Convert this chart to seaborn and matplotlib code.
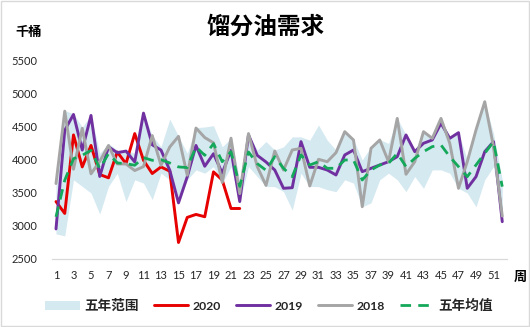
import matplotlib
matplotlib.use('Agg')
import numpy as np
import pandas as pd
import seaborn as sns
import matplotlib.pyplot as plt
from matplotlib.patches import Patch, Rectangle
from matplotlib.lines import Line2D

weeks = list(range(1, 53))
xtick_labels = [str(w) for w in range(1, 52, 2)]

y2020 = [3370, 3190, 4380, 3895, 4220, 3780, 3730, 4120, 3945, 4400, 3995, 3795,
         3895, 3830, 2750, 3130, 3175, 3140, 3820, 3695, 3265, 3265]

y2019 = [2955, 4450, 4690, 4150, 4675, 3750, 4200, 4110, 4135, 3970, 4710, 4230,
         4150, 3845, 3350, 3745, 4220, 3905, 4095, 3800, 4150, 3370, 4380, 4070,
         3970, 3848, 3571, 3580, 4278, 3889, 3889, 3848, 3773, 4076, 4151, 3823,
         3874, 3924, 3974, 4050, 4379, 4126, 4253, 4303, 4556, 4328, 4414, 3571,
         3747, 4126, 4278, 3065]

y2018 = [3643, 4740, 3860, 4480, 3790, 3980, 4220, 3940, 3940, 3840, 3900, 4370,
         3920, 4197, 4358, 3769, 4484, 4340, 4260, 3660, 4330, 3490, 4400, 3900,
         3615, 4136, 3848, 4151, 4177, 3606, 4010, 3974, 4111, 4429, 4303, 3292,
         4177, 4303, 3974, 4630, 3783, 3974, 4429, 4328, 4630, 4253, 3571, 3974,
         4454, 4883, 4202, 3150]

avg5 = [3139, 3693, 4020, 4071, 4146, 3870, 4096, 3955, 3945, 3920, 4036, 3995,
        4005, 3955, 3895, 3885, 4197, 4071, 4247, 3974, 4126, 3600, 4121, 3945,
        3844, 4050, 3874, 3747, 4076, 3924, 3974, 3874, 3874, 4000, 4000, 3697,
        3848, 3924, 3949, 4101, 3899, 4025, 4126, 4202, 4227, 4050, 3899, 3747,
        3924, 4101, 4278, 3596]

band_low = [2880, 2850, 3700, 3600, 3500, 3180, 3600, 3800, 3370, 3700, 3650, 3400,
            3800, 3700, 3340, 3700, 3850, 3800, 3900, 3650, 3900, 3360, 3900, 3750,
            3600, 3596, 3520, 3240, 3800, 3600, 3596, 3550, 3520, 3700, 3650, 3290,
            3350, 3700, 3800, 3700, 3520, 3750, 3570, 3850, 3850, 3800, 3570, 3500,
            3290, 3700, 3900, 3060]

band_high = [3650, 4750, 4700, 4500, 4680, 4100, 4250, 4150, 4150, 4100, 4710, 4370,
             4200, 4620, 4360, 4100, 4490, 4500, 4520, 4200, 4330, 3700, 4400, 4150,
             4280, 4150, 4200, 4350, 4350, 4300, 4530, 4300, 4150, 4430, 4310, 4000,
             4200, 4310, 4250, 4630, 4380, 4130, 4430, 4350, 4630, 4330, 4420, 4000,
             4460, 4885, 4400, 3700]

labels = ['五年范围', '2020', '2019', '2018', '五年均值']
c_band = '#D5E9F1'
c_2020 = '#E60000'
c_2019 = '#7030A0'
c_2018 = '#A5A5A5'
c_avg = '#14A85A'

sns.set_theme(style='white')
plt.rcParams['font.family'] = ['Lato', 'Noto Sans CJK SC', 'DejaVu Sans']
cjk = ['Noto Sans CJK SC', 'DejaVu Sans']

fig = plt.figure(figsize=(5.3, 3.27), dpi=100)
ax = fig.add_axes([0.0974, 0.208, 0.8585, 0.6055])

ax.fill_between(weeks, band_low, band_high, color=c_band, lw=0, zorder=1)

df20 = pd.DataFrame({'week': weeks[:len(y2020)], 'v': y2020})
df19 = pd.DataFrame({'week': weeks, 'v': y2019})
df18 = pd.DataFrame({'week': weeks, 'v': y2018})
dfa = pd.DataFrame({'week': weeks, 'v': avg5})

lw = 2.1
dash = (0, (3.8, 2.6))
sns.lineplot(data=df20, x='week', y='v', ax=ax, color=c_2020, lw=lw, zorder=3)
sns.lineplot(data=df19, x='week', y='v', ax=ax, color=c_2019, lw=lw, zorder=4)
sns.lineplot(data=df18, x='week', y='v', ax=ax, color=c_2018, lw=lw, zorder=5)
sns.lineplot(data=dfa, x='week', y='v', ax=ax, color=c_avg, lw=2.0,
             linestyle=dash, zorder=6)

ax.set_xlim(0.5, 52.5)
ax.set_ylim(2500, 5500)
ax.set_yticks(np.arange(2500, 5501, 500))
ax.set_xticks(list(range(1, 52, 2)))
ax.set_xticklabels(xtick_labels)
ax.set_xlabel('')
ax.set_ylabel('')
ax.grid(False)
for s in ['top', 'right', 'left']:
    ax.spines[s].set_visible(False)
ax.spines['bottom'].set_color('#D9D9D9')
ax.spines['bottom'].set_linewidth(0.9)
ax.tick_params(axis='both', length=0, labelsize=8, colors='#262626')
ax.tick_params(axis='y', pad=10)
ax.tick_params(axis='x', pad=8)

fig.text(0.502, 1 - 27 / 327, '馏分油需求', ha='center', va='center',
         fontsize=17, fontweight='bold', family=cjk, color='#000000')
fig.text(28.7 / 530, 1 - 31.5 / 327, '千桶', ha='center', va='center',
         fontsize=9.5, fontweight='bold', family=cjk, color='#000000')
fig.text(520 / 530, 1 - 277 / 327, '周', ha='center', va='center',
         fontsize=9.5, fontweight='bold', family=cjk, color='#000000')

handles = [
    Patch(facecolor=c_band, edgecolor='none'),
    Line2D([], [], color=c_2020, lw=lw),
    Line2D([], [], color=c_2019, lw=lw),
    Line2D([], [], color=c_2018, lw=lw),
    Line2D([], [], color=c_avg, lw=2.0, linestyle=dash),
]
leg = fig.legend(handles, labels, loc='center', bbox_to_anchor=(0.508, 1 - 306 / 327),
                 ncol=5, frameon=False, handlelength=2.55, handleheight=0.6,
                 handletextpad=0.3, columnspacing=1.1,
                 prop={'family': cjk, 'weight': 'bold', 'size': 9.8})
for t in leg.get_texts():
    if t.get_text().isdigit():
        t.set_fontfamily(['Lato', 'DejaVu Sans'])
        t.set_fontsize(8.8)
        t.set_fontweight('bold')

fig.add_artist(Rectangle((0.001, 0.002), 0.997, 0.995, transform=fig.transFigure,
                         fill=False, edgecolor='#D9D9D9', lw=1))

fig.savefig('out.png', dpi=100)
